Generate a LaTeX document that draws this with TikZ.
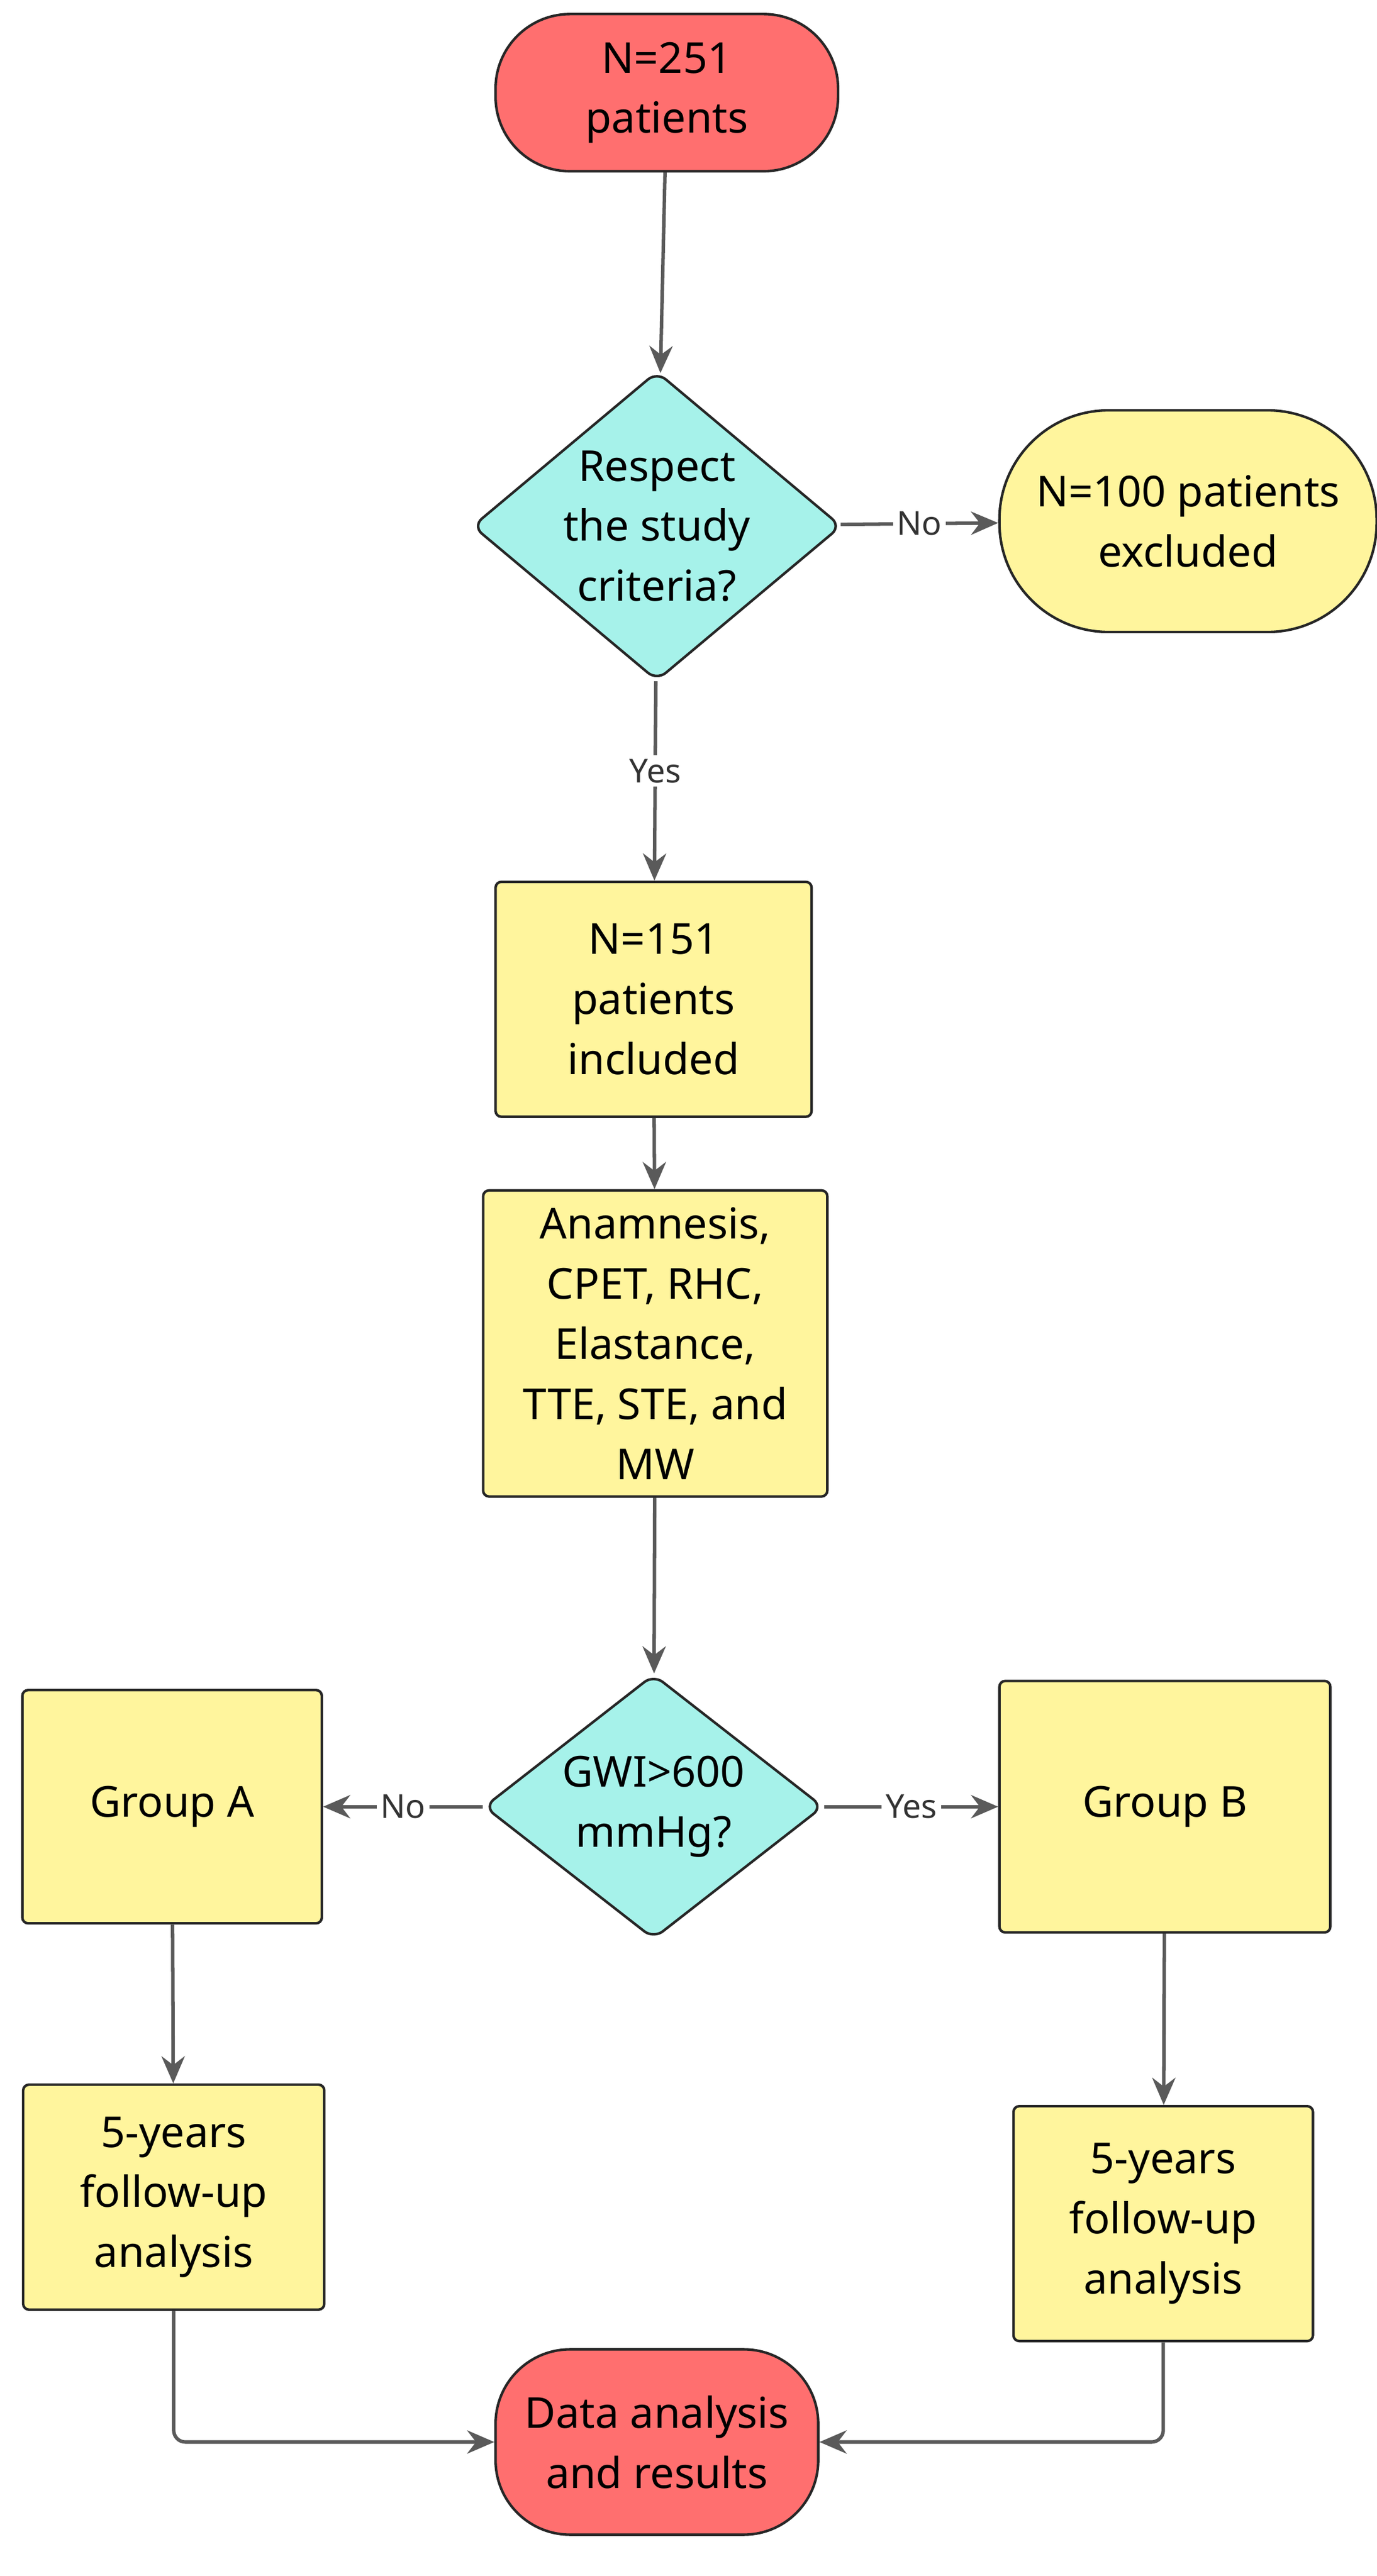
\documentclass[tikz,border=0pt]{standalone}
\usepackage{fontspec}
\setmainfont{Noto Sans}
\usetikzlibrary{shapes.geometric,arrows.meta}
\definecolor{rd}{HTML}{FF6F6F}
\definecolor{yl}{HTML}{FFF59D}
\definecolor{cy}{HTML}{A6F2EA}
\definecolor{ln}{HTML}{5A5A5A}
\begin{document}
\begin{tikzpicture}[x=0.03cm,y=-0.03cm,
  base/.style={draw=black!85,line width=1.3pt,align=center,font=\fontsize{22}{31}\selectfont,inner sep=0pt},
  pill/.style={base,rounded rectangle},
  term/.style={base,fill=rd,rounded corners=45*0.03cm},
  box/.style={base,fill=yl,rounded corners=3pt},
  dia/.style={base,fill=cy,diamond,aspect=1.2,rounded corners=6pt},
  arr/.style={draw=ln,line width=1.8pt,-{Stealth[length=14pt,width=12pt]}},
  lab/.style={fill=white,font=\fontsize{17}{20}\selectfont\bfseries,text=black!80,inner sep=2pt}]
\useasboundingbox (0,0) rectangle (832,1557);
\node[term,minimum width=207*0.03cm,minimum height=95*0.03cm] (s) at (403,56) {N=251\\patients};
\node[dia,minimum width=223*0.03cm,minimum height=187*0.03cm] (d1) at (397,318) {Respect\\the study\\criteria?};
\node[box,rounded corners=66*0.03cm,minimum width=228*0.03cm,minimum height=134*0.03cm] (ex) at (718,315) {N=100 patients\\excluded};
\node[box,minimum width=191*0.03cm,minimum height=142*0.03cm] (inc) at (395,604) {N=151\\patients\\included};
\node[box,minimum width=208*0.03cm,minimum height=185*0.03cm] (an) at (396,812) {Anamnesis,\\CPET, RHC,\\Elastance,\\TTE, STE, and\\MW};
\node[dia,minimum width=205*0.03cm,minimum height=160*0.03cm] (d2) at (395,1092) {GWI>600\\mmHg?};
\node[box,minimum width=181*0.03cm,minimum height=141*0.03cm] (ga) at (104,1092) {Group A};
\node[box,minimum width=200*0.03cm,minimum height=152*0.03cm] (gb) at (704,1092) {Group B};
\node[box,minimum width=182*0.03cm,minimum height=136*0.03cm] (fa) at (105,1328) {5-years\\follow-up\\analysis};
\node[box,minimum width=181*0.03cm,minimum height=142*0.03cm] (fb) at (703,1344) {5-years\\follow-up\\analysis};
\node[term,minimum width=195*0.03cm,minimum height=112*0.03cm] (e) at (397,1476) {Data analysis\\and results};
\draw[arr] (s) -- (d1);
\draw[arr] (d1) -- node[lab]{No} (ex);
\draw[arr] (d1) -- node[lab,pos=0.45]{Yes} (inc);
\draw[arr] (inc) -- (an);
\draw[arr] (an) -- (d2);
\draw[arr] (d2) -- node[lab]{No} (ga);
\draw[arr] (d2) -- node[lab]{Yes} (gb);
\draw[arr] (ga) -- (fa);
\draw[arr] (gb) -- (fb);
\draw[arr,rounded corners=6pt] (fa.south) |- (e.west);
\draw[arr,rounded corners=6pt] (fb.south) |- (e.east);
\end{tikzpicture}
\end{document}
